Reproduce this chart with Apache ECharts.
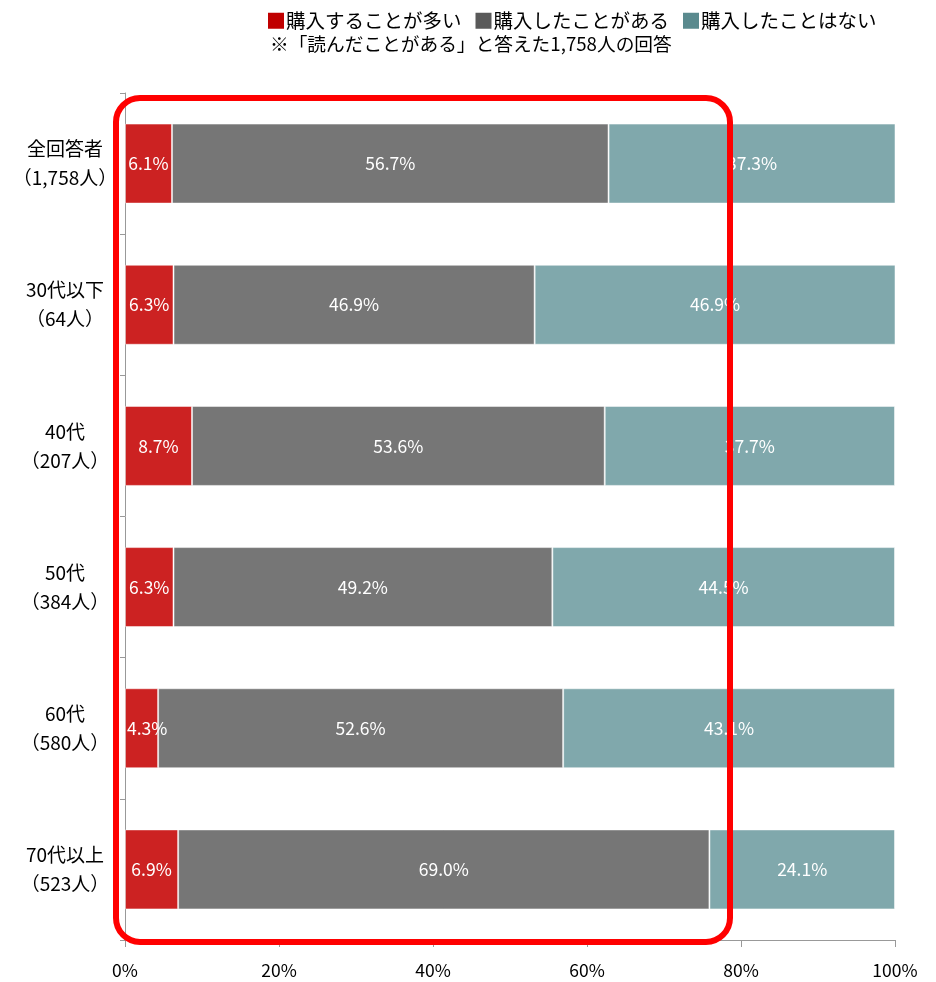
<!DOCTYPE html>
<html><head><meta charset="utf-8">
<script src="https://cdn.jsdelivr.net/npm/echarts@6/dist/echarts.min.js"></script>
<style>html,body{margin:0;padding:0;background:#fff}#c{width:936px;height:982px}</style>
</head><body><div id="c"></div>
<script>
const categories = ['全回答者\n（1,758人）','30代以下\n（64人）','40代\n（207人）','50代\n（384人）','60代\n（580人）','70代以上\n（523人）'];
const seriesNames = ['購入することが多い','購入したことがある','購入したことはない'];
const often = [6.1, 6.3, 8.7, 6.3, 4.3, 6.9];
const once = [56.7, 46.9, 53.6, 49.2, 52.6, 69.0];
const never = [37.3, 46.9, 37.7, 44.5, 43.1, 24.1];
const xTicks = [0, 20, 40, 60, 80, 100];
const subtitle = '※「読んだことがある」と答えた1,758人の回答';

const barColors = ['#CC2222', '#767676', '#80A8AC'];
const legendColors = ['#C00000', '#595959', '#5A8A8E'];
const FONT = '"Noto Sans CJK JP", "Noto Sans", sans-serif';

const chart = echarts.init(document.getElementById('c'));
const mk = (name, data, i) => ({
  name, type: 'bar', stack: 'total', barWidth: 80,
  data: data.map(v => v < 5
    ? { value: v, label: { position: 'insideLeft', distance: 2 } }
    : v),
  itemStyle: { color: barColors[i], borderColor: 'rgba(255,255,255,0.5)', borderWidth: 1 },
  label: { show: true, position: 'inside', color: '#fff', fontSize: 17.5, fontFamily: FONT,
           formatter: p => p.value.toFixed(1) + '%' },
  labelLayout: { hideOverlap: false },
  emphasis: { disabled: true }
});
chart.setOption({
  animation: false,
  textStyle: { fontFamily: FONT },
  title: { text: subtitle, left: 265, top: 30,
           textStyle: { fontSize: 18.7, fontWeight: 'normal', color: '#000', fontFamily: FONT } },
  legend: {
    top: 6, left: 263, itemWidth: 16, itemHeight: 16, itemGap: 14,
    textStyle: { fontSize: 19.5, color: '#000', fontFamily: FONT, padding: [0, 0, 0, -3] },
    data: seriesNames.map((n, i) => ({ name: n, icon: 'rect', itemStyle: { color: legendColors[i], borderWidth: 0 } }))
  },
  grid: { left: 125, right: 41, top: 93, bottom: 42, containLabel: false },
  xAxis: {
    type: 'value', min: 0, max: 100, interval: 20,
    axisLine: { show: true, lineStyle: { color: '#999', width: 1 } },
    axisTick: { show: true, length: 7, inside: false, lineStyle: { color: '#999' } },
    splitLine: { show: false },
    axisLabel: { color: '#000', fontSize: 17.5, margin: 22, fontFamily: FONT,
                 formatter: v => xTicks.includes(v) ? v + '%' : '' }
  },
  yAxis: {
    type: 'category', data: categories, inverse: true,
    axisLine: { show: true, lineStyle: { color: '#999', width: 1 } },
    axisTick: { show: true, length: 5, lineStyle: { color: '#999' } },
    axisLabel: { color: '#000', fontSize: 19, lineHeight: 29, align: 'center', margin: 60, fontFamily: FONT }
  },
  series: [mk(seriesNames[0], often, 0), mk(seriesNames[1], once, 1), mk(seriesNames[2], never, 2)],
  graphic: [{
    type: 'rect', z: 100, silent: true,
    shape: { x: 116, y: 98, width: 614, height: 844, r: 24 },
    style: { fill: 'none', stroke: '#FF0000', lineWidth: 6 }
  }]
});
</script></body></html>
